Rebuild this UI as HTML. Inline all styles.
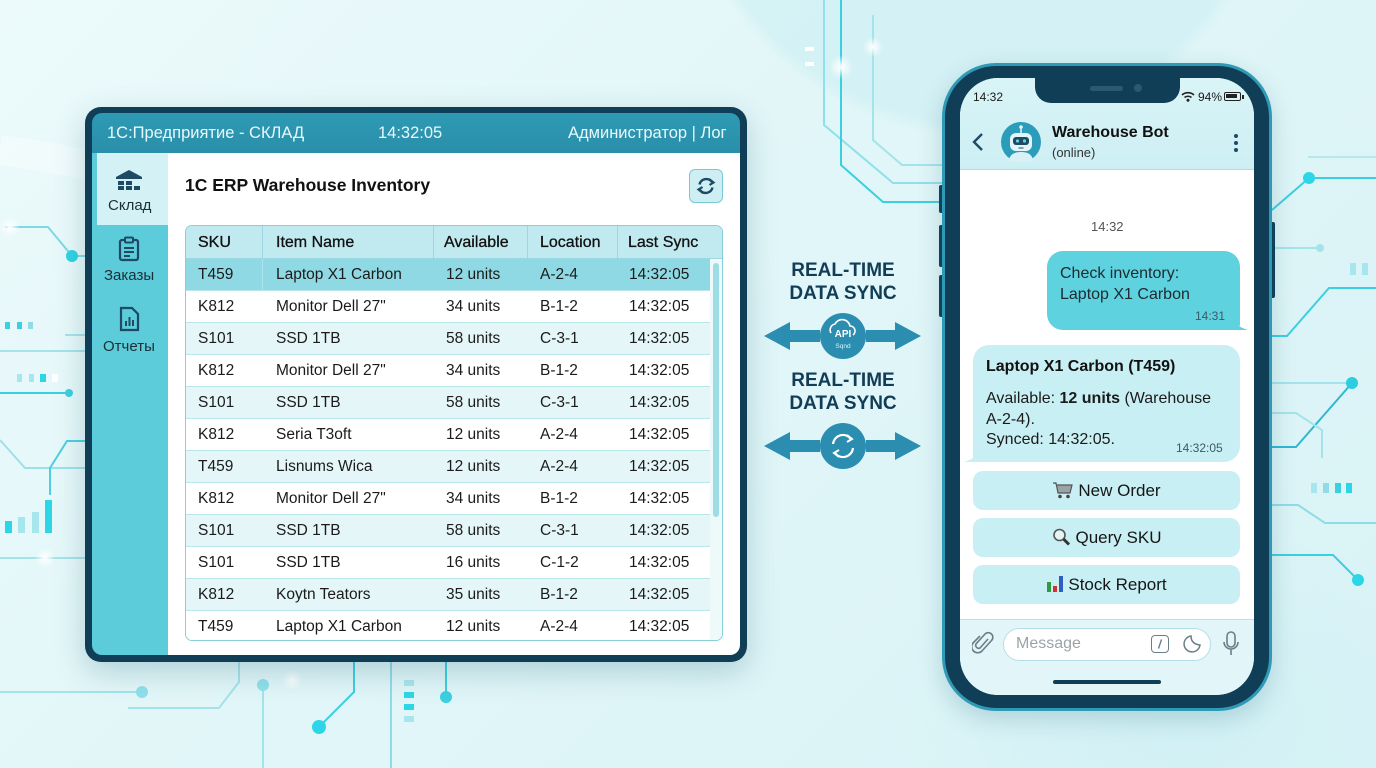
<!DOCTYPE html>
<html style="overflow:hidden;width:1376px;height:768px"><head><meta charset="utf-8">
<style>
*{margin:0;padding:0;box-sizing:border-box}
body{width:1376px;height:768px;overflow:hidden;position:relative;font-family:"Liberation Sans","Noto Sans CJK SC",sans-serif;background:radial-gradient(circle at 980px -162px,rgba(208,240,244,.75) 0,rgba(208,240,244,.75) 285px,rgba(208,240,244,0) 300px),radial-gradient(ellipse 300px 200px at 1180px 720px,rgba(205,239,244,.7) 0,rgba(205,239,244,0) 100%),linear-gradient(135deg,#ecfafb 0%,#e1f6f8 45%,#d9f3f6 100%);}
.abs{position:absolute}
.t{position:absolute;white-space:nowrap}
.row{position:absolute;left:0;width:524px;height:32px;border-bottom:1px solid #b9e6ec;font-size:15.5px;color:#1b1b1b;line-height:32px}
.row span{position:absolute;top:0}
.c1{left:12px}.c2{left:90px}.c3{left:260px}.c4{left:354px}.c5{left:443px}
.alt{background:#e4f6f8}
.wht{background:#fff}
.btn{position:absolute;left:13px;width:267px;height:39px;background:#c8eff3;border-radius:10px;font-size:17px;color:#161616;text-align:center;line-height:39px}
</style></head><body>

<svg class="abs" style="left:0;top:0;overflow:hidden" width="1376" height="768" viewBox="0 0 1376 768">
<defs>
<radialGradient id="gl" cx="50%" cy="50%" r="50%"><stop offset="0" stop-color="#fff" stop-opacity="1"/><stop offset="1" stop-color="#fff" stop-opacity="0"/></radialGradient>
</defs>
<path d="M0 150 Q150 170 300 230" stroke="#fff" stroke-width="30" fill="none" opacity=".35"/>
<g fill="none" stroke-width="2">
<path d="M5 227 H48 L72 256 H90" stroke="#7fd9e4"/>
<circle cx="72" cy="256" r="6" fill="#2fd3e3" stroke="none"/>
<path d="M65 335 H92" stroke="#a5e3ea"/>
<path d="M0 351 H92" stroke="#a5e3ea"/>
<path d="M0 393 H69" stroke="#3ccfe0"/>
<circle cx="69" cy="393" r="4" fill="#3ccfe0" stroke="none"/>
<path d="M0 440 L25 468 H92" stroke="#9fe0e8"/>
<path d="M92 441 H67 L50 468 V495" stroke="#4ccfe0"/>
<path d="M0 558 H92" stroke="#a5e3ea"/>
<path d="M0 692 H142" stroke="#a5e3ea"/>
<circle cx="142" cy="692" r="6" fill="#8fe0ea" stroke="none"/>
<path d="M128 708 H219 L239 682 V662" stroke="#a5e3ea"/>
<path d="M263 685 V768" stroke="#a5e3ea"/>
<circle cx="263" cy="685" r="6" fill="#8fe0ea" stroke="none"/>
<path d="M354 662 V692 L319 727" stroke="#3ccfe0"/>
<circle cx="319" cy="727" r="7" fill="#2dd6e6" stroke="none"/>
<path d="M391 662 V768" stroke="#8fdbe6"/>
<path d="M446 662 V697" stroke="#3ccfe0"/>
<circle cx="446" cy="697" r="6" fill="#3ccfe0" stroke="none"/>
<path d="M824 0 V125 L893 183 H942" stroke="#8fe0ea"/>
<path d="M841 0 V165 L883 202 H942" stroke="#3ccfe0"/>
<path d="M873 15 V140 L902 165 H942" stroke="#a5e3ea"/>
<path d="M1308 157 H1376" stroke="#b5e8ee"/>
<path d="M1272 210 L1309 178 H1376" stroke="#3ccfe0"/>
<circle cx="1309" cy="178" r="6" fill="#2dd6e6" stroke="none"/>
<path d="M1272 248 H1320" stroke="#a5e3ea"/>
<circle cx="1320" cy="248" r="4" fill="#a5e3ea" stroke="none"/>
<path d="M1272 336 H1287 L1329 288 H1376" stroke="#3ccfe0"/>
<path d="M1272 383 H1352" stroke="#a5e3ea"/>
<path d="M1352 383 L1296 447 H1272" stroke="#2fb8cf"/>
<circle cx="1352" cy="383" r="6" fill="#2dcde0" stroke="none"/>
<path d="M1272 413 H1296 L1322 430 V458" stroke="#a5e3ea"/>
<path d="M1272 505 H1298 L1325 523 H1376" stroke="#8fdbe6"/>
<path d="M1272 555 H1333 L1358 580" stroke="#3ccfe0"/>
<circle cx="1358" cy="580" r="6" fill="#2dd6e6" stroke="none"/>
</g>
<g stroke="none">
<rect x="5" y="322" width="5" height="7" fill="#3ccfe0"/><rect x="17" y="322" width="5" height="7" fill="#3ccfe0"/><rect x="28" y="322" width="5" height="7" fill="#8fdce6"/>
<rect x="17" y="374" width="5" height="8" fill="#a8e6ee"/><rect x="29" y="374" width="5" height="8" fill="#a8e6ee"/><rect x="40" y="374" width="6" height="8" fill="#2dd6e6"/><rect x="52" y="374" width="6" height="8" fill="#fff"/>
<rect x="5" y="521" width="7" height="12" fill="#2dd6e6"/><rect x="18" y="517" width="7" height="16" fill="#a8e6ee"/><rect x="32" y="512" width="7" height="21" fill="#a8e6ee"/><rect x="45" y="500" width="7" height="33" fill="#2dd6e6"/>
<rect x="404" y="680" width="10" height="6" fill="#a8e6ee"/><rect x="404" y="692" width="10" height="6" fill="#2dd6e6"/><rect x="404" y="704" width="10" height="6" fill="#2dd6e6"/><rect x="404" y="716" width="10" height="6" fill="#a8e6ee"/>
<rect x="805" y="47" width="9" height="4" fill="#fff"/><rect x="805" y="62" width="9" height="4" fill="#fff"/>
<rect x="1350" y="263" width="6" height="12" fill="#a8e6ee"/><rect x="1362" y="263" width="6" height="12" fill="#a8e6ee"/>
<rect x="1311" y="483" width="6" height="10" fill="#a8e6ee"/><rect x="1323" y="483" width="6" height="10" fill="#8fdce6"/><rect x="1335" y="483" width="6" height="10" fill="#3ccfe0"/><rect x="1346" y="483" width="6" height="10" fill="#2dd6e6"/>
<circle cx="841" cy="67" r="12" fill="url(#gl)"/><circle cx="873" cy="47" r="10" fill="url(#gl)"/>
<circle cx="45" cy="558" r="10" fill="url(#gl)"/><circle cx="292" cy="680" r="10" fill="url(#gl)"/><circle cx="10" cy="227" r="10" fill="url(#gl)"/>
</g>
</svg>

<div class="abs" style="left:85px;top:107px;width:662px;height:555px;background:#0f3e56;border-radius:16px;box-shadow:0 10px 30px rgba(30,100,120,.25)"></div>
<div class="abs" style="left:92px;top:113px;width:648px;height:40px;background:linear-gradient(#2e9ab4,#2a8faa);border-radius:10px 10px 0 0"></div>
<div class="t" style="left:107px;top:124px;font-size:16.5px;color:#e9f9fb">1C:Предприятие - СКЛАД</div>
<div class="t" style="left:378px;top:124px;font-size:16.5px;color:#e9f9fb">14:32:05</div>
<div class="t" style="left:568px;top:124px;font-size:16.5px;color:#e9f9fb">Администратор | Лог</div>
<div class="abs" style="left:92px;top:153px;width:76px;height:502px;background:#5ccbda;border-radius:0 0 0 10px"></div>
<div class="abs" style="left:97px;top:153px;width:71px;height:72px;background:#d4f2f6"></div>
<svg class="abs" style="left:114px;top:168px" width="30" height="24" viewBox="0 0 30 24"><path d="M2 9 L15 2 L28 9 Z" fill="#1e4b63"/><rect x="2" y="9" width="26" height="2" fill="#1e4b63"/><rect x="4" y="13" width="6" height="4" fill="#1e4b63"/><rect x="12" y="13" width="6" height="4" fill="#1e4b63"/><rect x="4" y="18" width="6" height="4" fill="#1e4b63"/><rect x="12" y="18" width="6" height="4" fill="#1e4b63"/><rect x="20" y="18" width="6" height="4" fill="#1e4b63"/></svg>
<div class="t" style="left:108px;top:197px;font-size:15px;color:#1d2e36">Склад</div>
<svg class="abs" style="left:118px;top:236px" width="22" height="26" viewBox="0 0 22 26"><rect x="2" y="4" width="18" height="20" rx="2" fill="none" stroke="#1e4b63" stroke-width="2.2"/><rect x="7" y="1.5" width="8" height="5" rx="1" fill="#5ccbda" stroke="#1e4b63" stroke-width="2"/><path d="M6 12H16M6 16H16M6 20H12" stroke="#1e4b63" stroke-width="2"/></svg>
<div class="t" style="left:104px;top:267px;font-size:15px;color:#1d2e36">Заказы</div>
<svg class="abs" style="left:118px;top:306px" width="22" height="26" viewBox="0 0 22 26"><path d="M3 2H14L20 8V24H3Z" fill="none" stroke="#1e4b63" stroke-width="2.2"/><path d="M8 20V15M11.5 20V11M15 20V14" stroke="#1e4b63" stroke-width="2"/></svg>
<div class="t" style="left:103px;top:338px;font-size:15px;color:#1d2e36">Отчеты</div>
<div class="abs" style="left:168px;top:153px;width:572px;height:502px;background:#fff;border-radius:0 0 10px 0"></div>
<div class="t" style="left:185px;top:175px;font-size:17.5px;font-weight:bold;color:#111">1C ERP Warehouse Inventory</div>
<div class="abs" style="left:689px;top:169px;width:34px;height:34px;background:#cdeef3;border:1px solid #7cc9d6;border-radius:6px"></div>
<svg class="abs" style="left:695px;top:175px" width="22" height="22" viewBox="0 0 22 22"><path d="M4.5 9.5 A7 7 0 0 1 17 7" fill="none" stroke="#1e4b63" stroke-width="2.4"/><path d="M14 4 L18.5 7.5 L14.5 10" fill="none" stroke="#1e4b63" stroke-width="2.2"/><path d="M17.5 12.5 A7 7 0 0 1 5 15" fill="none" stroke="#1e4b63" stroke-width="2.4"/><path d="M8 18 L3.5 14.5 L7.5 12" fill="none" stroke="#1e4b63" stroke-width="2.2"/></svg>
<div class="abs" style="left:185px;top:225px;width:538px;height:416px;border:1px solid #86cfdb;border-radius:7px;overflow:hidden;background:#fff">
 <div class="abs" style="left:0;top:0;width:538px;height:33px;background:#c1eaf0;border-bottom:1px solid #9ad9e3;font-size:16px;color:#111;line-height:33px">
  <span class="t c1" style="top:0;-webkit-text-stroke:.3px #111">SKU</span><span class="t c2" style="top:0;-webkit-text-stroke:.3px #111">Item Name</span><span class="t" style="left:258px;top:0;-webkit-text-stroke:.3px #111">Available</span><span class="t c4" style="top:0;-webkit-text-stroke:.3px #111">Location</span><span class="t" style="left:442px;top:0;-webkit-text-stroke:.3px #111">Last Sync</span>
 </div>
 <div class="abs" style="left:76px;top:0;width:1px;height:33px;background:#9ad9e3"></div>
 <div class="abs" style="left:247px;top:0;width:1px;height:65px;background:#9ad9e3"></div>
 <div class="abs" style="left:341px;top:0;width:1px;height:65px;background:#9ad9e3"></div>
 <div class="abs" style="left:431px;top:0;width:1px;height:65px;background:#9ad9e3"></div>
 <div class="row" style="top:33px;background:#8fd9e4"><span class="c1">T459</span><span class="c2">Laptop X1 Carbon</span><span class="c3">12 units</span><span class="c4">A-2-4</span><span class="c5">14:32:05</span></div>
 <div class="abs" style="left:76px;top:33px;width:1px;height:32px;background:#b0e4eb"></div>
 <div class="row wht" style="top:65px"><span class="c1">K812</span><span class="c2">Monitor Dell 27"</span><span class="c3">34 units</span><span class="c4">B-1-2</span><span class="c5">14:32:05</span></div>
 <div class="row alt" style="top:97px"><span class="c1">S101</span><span class="c2">SSD 1TB</span><span class="c3">58 units</span><span class="c4">C-3-1</span><span class="c5">14:32:05</span></div>
 <div class="row wht" style="top:129px"><span class="c1">K812</span><span class="c2">Monitor Dell 27"</span><span class="c3">34 units</span><span class="c4">B-1-2</span><span class="c5">14:32:05</span></div>
 <div class="row alt" style="top:161px"><span class="c1">S101</span><span class="c2">SSD 1TB</span><span class="c3">58 units</span><span class="c4">C-3-1</span><span class="c5">14:32:05</span></div>
 <div class="row wht" style="top:193px"><span class="c1">K812</span><span class="c2">Seria T3oft</span><span class="c3">12 units</span><span class="c4">A-2-4</span><span class="c5">14:32:05</span></div>
 <div class="row alt" style="top:225px"><span class="c1">T459</span><span class="c2">Lisnums Wica</span><span class="c3">12 units</span><span class="c4">A-2-4</span><span class="c5">14:32:05</span></div>
 <div class="row wht" style="top:257px"><span class="c1">K812</span><span class="c2">Monitor Dell 27"</span><span class="c3">34 units</span><span class="c4">B-1-2</span><span class="c5">14:32:05</span></div>
 <div class="row alt" style="top:289px"><span class="c1">S101</span><span class="c2">SSD 1TB</span><span class="c3">58 units</span><span class="c4">C-3-1</span><span class="c5">14:32:05</span></div>
 <div class="row wht" style="top:321px"><span class="c1">S101</span><span class="c2">SSD 1TB</span><span class="c3">16 units</span><span class="c4">C-1-2</span><span class="c5">14:32:05</span></div>
 <div class="row alt" style="top:353px"><span class="c1">K812</span><span class="c2">Koytn Teators</span><span class="c3">35 units</span><span class="c4">B-1-2</span><span class="c5">14:32:05</span></div>
 <div class="row wht" style="top:385px;border-bottom:none"><span class="c1">T459</span><span class="c2">Laptop X1 Carbon</span><span class="c3">12 units</span><span class="c4">A-2-4</span><span class="c5">14:32:05</span></div>
 <div class="abs" style="left:524px;top:33px;width:12px;height:381px;background:#eef9fa"></div>
 <div class="abs" style="left:527px;top:37px;width:6px;height:254px;background:#9fdde6;border-radius:3px"></div>
</div>

<div class="t" style="left:743px;top:259px;width:200px;text-align:center;font-size:19px;font-weight:bold;color:#123d56;line-height:23px">REAL-TIME<br>DATA SYNC</div>
<div class="t" style="left:743px;top:369px;width:200px;text-align:center;font-size:19px;font-weight:bold;color:#123d56;line-height:23px">REAL-TIME<br>DATA SYNC</div>
<svg class="abs" style="left:760px;top:300px" width="166" height="180" viewBox="760 300 166 180">
<g fill="#2b8db0">
<path d="M764 336 L790 322 V330 H820 V342 H790 V350 Z"/>
<path d="M921 336 L895 322 V330 H866 V342 H895 V350 Z"/>
<circle cx="843" cy="336" r="23"/>
<path d="M764 446 L790 432 V440 H820 V452 H790 V460 Z"/>
<path d="M921 446 L895 432 V440 H866 V452 H895 V460 Z"/>
<circle cx="843" cy="446" r="23"/>
</g>
<path d="M831 333 a6 6 0 0 1 4 -9 a8 8 0 0 1 15 2 a5 5 0 0 1 3 9" fill="none" stroke="#fff" stroke-width="1.6"/>
<text x="843" y="337" text-anchor="middle" font-family="Liberation Sans" font-weight="bold" font-size="10" fill="#fff">API</text>
<text x="843" y="348" text-anchor="middle" font-family="Liberation Sans" font-size="6.5" fill="#e0f6fa">Sqnd</text>
<path d="M833 444 A10 10 0 0 1 851 439" fill="none" stroke="#fff" stroke-width="2.2"/>
<path d="M847 435 L852 439 L847 442" fill="none" stroke="#fff" stroke-width="2"/>
<path d="M853 448 A10 10 0 0 1 835 453" fill="none" stroke="#fff" stroke-width="2.2"/>
<path d="M839 457 L834 453 L839 450" fill="none" stroke="#fff" stroke-width="2"/>
</svg>

<div class="abs" style="left:939px;top:185px;width:6px;height:28px;background:#0f3e56;border-radius:2px"></div>
<div class="abs" style="left:939px;top:225px;width:6px;height:42px;background:#0f3e56;border-radius:2px"></div>
<div class="abs" style="left:939px;top:275px;width:6px;height:42px;background:#0f3e56;border-radius:2px"></div>
<div class="abs" style="left:1269px;top:222px;width:6px;height:76px;background:#0f3e56;border-radius:2px"></div>
<div class="abs" style="left:942px;top:63px;width:330px;height:648px;background:#0f3e56;border:3px solid #2f9ab5;border-radius:54px;box-shadow:0 8px 24px rgba(30,100,120,.22)"></div>
<div class="abs" style="left:960px;top:78px;width:294px;height:617px;background:#fff;border-radius:38px;overflow:hidden">
 <div class="abs" style="left:0;top:0;width:294px;height:92px;background:linear-gradient(#d9f4f7,#cdeff4);border-bottom:1px solid #a9dfe7"></div>
 <div class="t" style="left:13px;top:12px;font-size:12px;color:#1a1a1a">14:32</div>
 <svg class="abs" style="left:221px;top:13px" width="14" height="11" viewBox="0 0 14 11"><path d="M1 4 A9 9 0 0 1 13 4" fill="none" stroke="#222" stroke-width="1.6"/><path d="M3.5 6.5 A5.5 5.5 0 0 1 10.5 6.5" fill="none" stroke="#222" stroke-width="1.6"/><circle cx="7" cy="9.3" r="1.5" fill="#222"/></svg>
 <div class="t" style="left:238px;top:12px;font-size:12px;color:#1a1a1a">94%</div>
 <div class="abs" style="left:264px;top:14px;width:17px;height:9px;border:1.5px solid #222;border-radius:2px"><div style="width:11px;height:4px;margin:1px;background:#222"></div></div>
 <div class="abs" style="left:282px;top:17px;width:2px;height:4px;background:#222"></div>
 <div class="abs" style="left:75px;top:0;width:145px;height:25px;background:#0f3e56;border-radius:0 0 16px 16px"></div>
 <div class="abs" style="left:130px;top:8px;width:33px;height:5px;background:#2a5a72;border-radius:3px"></div>
 <div class="abs" style="left:174px;top:6px;width:8px;height:8px;background:#2a5a72;border-radius:50%"></div>
 <svg class="abs" style="left:12px;top:54px" width="12" height="20" viewBox="0 0 12 20"><path d="M10 2 L2 10 L10 18" fill="none" stroke="#1e4b63" stroke-width="2.4"/></svg>
 <svg class="abs" style="left:41px;top:44px" width="40" height="40" viewBox="0 0 40 40"><circle cx="20" cy="20" r="20" fill="#2b9dbb"/><path d="M8 40 Q8 30 20 30 Q32 30 32 40Z" fill="#d9f1f5"/><rect x="9" y="11" width="22" height="18" rx="6" fill="#e3f5f8"/><rect x="12" y="15" width="16" height="8" rx="3" fill="#1e4b63"/><circle cx="16.5" cy="19" r="1.6" fill="#5fd6e6"/><circle cx="23.5" cy="19" r="1.6" fill="#5fd6e6"/><path d="M20 11 V6" stroke="#e3f5f8" stroke-width="1.5"/><circle cx="20" cy="5" r="1.8" fill="#e3f5f8"/><path d="M17.5 26 H22.5" stroke="#1e4b63" stroke-width="1"/></svg>
 <div class="t" style="left:92px;top:46px;font-size:16px;font-weight:bold;color:#111">Warehouse Bot</div>
 <div class="t" style="left:92px;top:67px;font-size:13px;color:#333">(online)</div>
 <div class="abs" style="left:274px;top:56px;width:4px;height:4px;background:#1e4b63;border-radius:50%"></div>
 <div class="abs" style="left:274px;top:63px;width:4px;height:4px;background:#1e4b63;border-radius:50%"></div>
 <div class="abs" style="left:274px;top:70px;width:4px;height:4px;background:#1e4b63;border-radius:50%"></div>
 <div class="t" style="left:131px;top:141px;font-size:13px;color:#555">14:32</div>
 <div class="abs" style="left:87px;top:173px;width:193px;height:79px;background:#5ed2df;border-radius:16px 16px 6px 16px"></div>
 <svg class="abs" style="left:268px;top:236px" width="22" height="18" viewBox="0 0 22 18"><path d="M0 0 Q6 12 20 16 L0 16 Z" fill="#5ed2df"/></svg>
 <div class="t" style="left:100px;top:185px;font-size:16px;line-height:21px;color:#1e2a30">Check inventory:<br>Laptop X1 Carbon</div>
 <div class="t" style="left:235px;top:231px;font-size:12px;color:#3b5a66">14:31</div>
 <div class="abs" style="left:13px;top:267px;width:267px;height:117px;background:#c8eff3;border-radius:16px 16px 16px 6px"></div>
 <svg class="abs" style="left:2px;top:368px" width="22" height="18" viewBox="0 0 22 18"><path d="M20 0 Q16 12 2 16 L20 16 Z" fill="#c8eff3"/></svg>
 <div class="t" style="left:26px;top:280px;font-size:16px;font-weight:bold;color:#111">Laptop X1 Carbon (T459)</div>
 <div class="t" style="left:26px;top:311px;font-size:16px;line-height:20.5px;color:#1b1b1b">Available: <b>12 units</b> (Warehouse<br>A-2-4).<br>Synced: 14:32:05.</div>
 <div class="t" style="left:216px;top:363px;font-size:12px;color:#3b5a66">14:32:05</div>
 <div class="btn" style="top:393px"><svg style="vertical-align:-3px;margin-right:4px" width="22" height="18" viewBox="0 0 22 18"><path d="M1 2 H4 L6 12 H18 L20 4 H5" fill="#9aa3a8" stroke="#555" stroke-width="1.2"/><circle cx="8" cy="15.5" r="1.8" fill="#444"/><circle cx="16" cy="15.5" r="1.8" fill="#444"/></svg>New Order</div>
 <div class="btn" style="top:440px"><svg style="vertical-align:-3px;margin-right:4px" width="20" height="18" viewBox="0 0 20 18"><circle cx="7.5" cy="7" r="5.5" fill="#e6f4f8" stroke="#555" stroke-width="1.6"/><path d="M11.5 11 L17 16.5" stroke="#333" stroke-width="3"/></svg>Query SKU</div>
 <div class="btn" style="top:487px"><svg style="vertical-align:-3px;margin-right:4px" width="18" height="19" viewBox="0 0 18 19"><rect x="1" y="8" width="4" height="10" fill="#2e9b44"/><rect x="7" y="12" width="4" height="6" fill="#d42f2f"/><rect x="13" y="2" width="4" height="16" fill="#2c5fc0"/></svg>Stock Report</div>
 <div class="abs" style="left:0;top:541px;width:294px;height:76px;background:#e2f6f9;border-top:1px solid #b5e3ea"></div>
 <svg class="abs" style="left:12px;top:553px" width="22" height="24" viewBox="0 0 22 24"><path d="M16 8 L8 17 a3 3 0 0 1 -4 -4 L13 3 a4.5 4.5 0 0 1 6.5 6.5 L10 20 a6 6 0 0 1 -8.5 -8.5 L8 5" fill="none" stroke="#6a7f88" stroke-width="1.6"/></svg>
 <div class="abs" style="left:43px;top:550px;width:208px;height:33px;background:#fff;border:1px solid #b5dfe6;border-radius:17px"></div>
 <div class="t" style="left:56px;top:557px;font-size:16px;color:#9aa4a8">Message</div>
 <div class="abs" style="left:191px;top:557px;width:18px;height:18px;border:1.5px solid #6a7f88;border-radius:4px"></div>
 <svg class="abs" style="left:191px;top:557px" width="18" height="18"><path d="M10.5 4.5 L7.5 13.5" stroke="#6a7f88" stroke-width="1.4"/></svg>
 <svg class="abs" style="left:222px;top:556px" width="20" height="20" viewBox="0 0 20 20"><path d="M18 11 A8 8 0 1 1 9 2 Q9 10 18 11Z" fill="none" stroke="#6a7f88" stroke-width="1.5"/></svg>
 <svg class="abs" style="left:262px;top:553px" width="18" height="26" viewBox="0 0 18 26"><rect x="5" y="1" width="8" height="15" rx="4" fill="none" stroke="#6a7f88" stroke-width="1.6"/><path d="M2 11 a7 7 0 0 0 14 0 M9 18 V24" fill="none" stroke="#6a7f88" stroke-width="1.6"/></svg>
 <div class="abs" style="left:93px;top:602px;width:108px;height:4px;background:#0f3e56;border-radius:2px"></div>
</div>
</body></html>
